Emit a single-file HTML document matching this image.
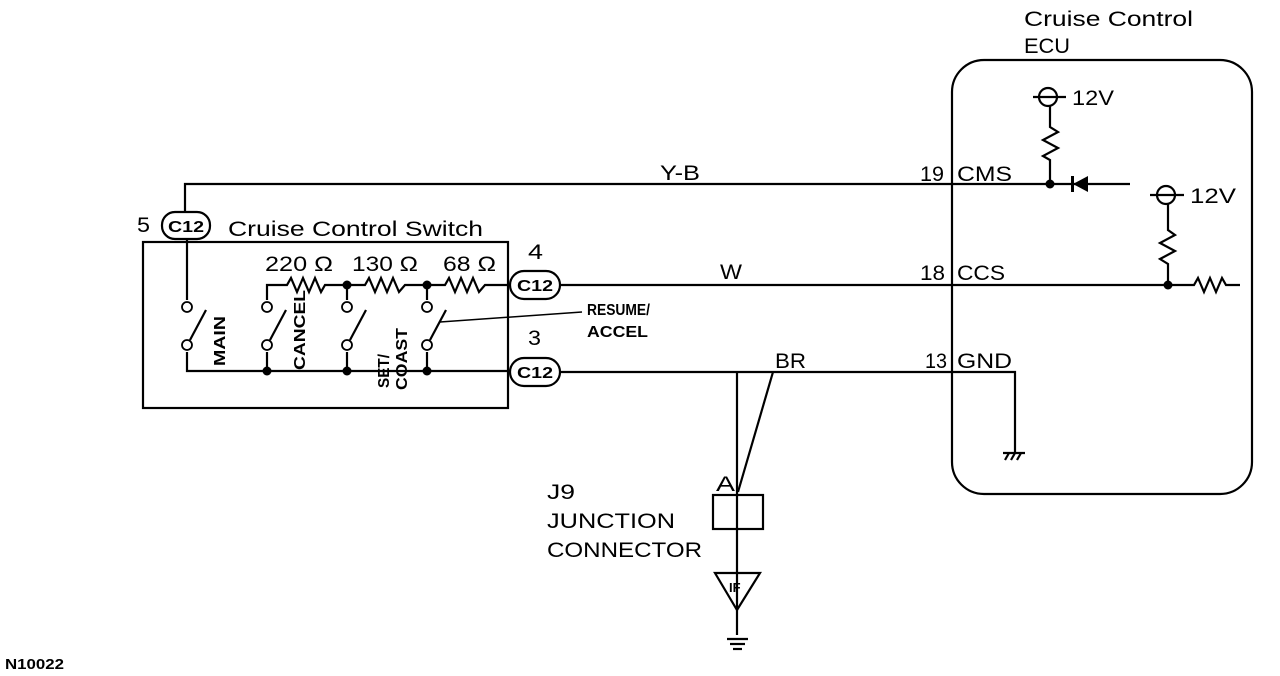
<!DOCTYPE html>
<html><head><meta charset="utf-8"><style>
html,body{margin:0;padding:0;background:#fff;}
svg{display:block;font-family:"Liberation Sans",sans-serif;}
</style></head><body>
<svg width="1280" height="676" viewBox="0 0 1280 676" xmlns="http://www.w3.org/2000/svg">
<g fill="none" stroke="#000" stroke-width="2.2">
<rect x="952" y="60" width="300" height="434" rx="32"/>
<rect x="143" y="242" width="365" height="166"/>
<polyline points="185,212 185,184 1130,184"/>
<circle cx="1048" cy="97" r="9" fill="#fff"/>
<line x1="1033" y1="97" x2="1066" y2="97"/>
<polyline points="1050,106 1050,127 1058,132 1043,140 1058,148 1043,156 1050,160 1050,184"/>
<circle cx="1166" cy="195" r="9" fill="#fff"/>
<line x1="1150" y1="195" x2="1184" y2="195"/>
<polyline points="1168,204 1168,230 1175,235 1160,243 1175,251 1160,259 1168,264 1168,285"/>
<polyline points="560,285 1188,285 1194,285 1198,278 1204,292 1210,278 1216,292 1222,278 1226,285 1240,285"/>
<polyline points="560,372 1015,372 1015,452"/>
<line x1="1003" y1="453" x2="1025" y2="453"/>
<line x1="1005" y1="460" x2="1009" y2="453"/><line x1="1011" y1="460" x2="1015" y2="453"/><line x1="1017" y1="460" x2="1021" y2="453"/>
<line x1="737" y1="372" x2="737" y2="635"/>
<line x1="773" y1="372" x2="738" y2="492"/>
<rect x="713" y="495" width="50" height="34" fill="none"/>
<polygon points="715,573 760,573 737,610"/>
<line x1="727" y1="639" x2="748" y2="639"/>
<line x1="730" y1="644" x2="745" y2="644"/>
<line x1="733" y1="649" x2="742" y2="649"/>
<polyline points="267,300 267,285 287,285 291,278 297,292 303,278 309,292 315,278 321,292 325,285 365,285 369,278 375,292 381,278 387,292 393,278 399,292 405,285 445,285 449,278 455,292 461,278 467,292 473,278 479,292 485,285 512,285"/>
<line x1="347" y1="285" x2="347" y2="300"/>
<line x1="427" y1="285" x2="427" y2="300"/>
<line x1="187" y1="238" x2="187" y2="300"/>
<polyline points="187,352 187,371 512,371"/>
<line x1="267" y1="352" x2="267" y2="371"/>
<line x1="347" y1="352" x2="347" y2="371"/>
<line x1="427" y1="352" x2="427" y2="371"/>
<g stroke-width="1.8">
<circle cx="187" cy="307" r="5" fill="#fff"/><circle cx="187" cy="345" r="5" fill="#fff"/>
<circle cx="267" cy="307" r="5" fill="#fff"/><circle cx="267" cy="345" r="5" fill="#fff"/>
<circle cx="347" cy="307" r="5" fill="#fff"/><circle cx="347" cy="345" r="5" fill="#fff"/>
<circle cx="427" cy="307" r="5" fill="#fff"/><circle cx="427" cy="345" r="5" fill="#fff"/>
</g>
<line x1="190" y1="340" x2="206" y2="310"/>
<line x1="270" y1="340" x2="286" y2="310"/>
<line x1="350" y1="340" x2="366" y2="310"/>
<line x1="430" y1="340" x2="446" y2="310"/>
<line x1="440" y1="322" x2="582" y2="312" stroke-width="1.5"/>
<rect x="162" y="212" width="48" height="27" rx="13" fill="#fff"/>
<rect x="510" y="271" width="50" height="28" rx="14" fill="#fff"/>
<rect x="510" y="358" width="50" height="28" rx="14" fill="#fff"/>
</g>
<g fill="#000">
<circle cx="1050" cy="184" r="4.5"/>
<circle cx="1168" cy="285" r="4.5"/>
<circle cx="347" cy="285" r="4.5"/><circle cx="427" cy="285" r="4.5"/>
<circle cx="267" cy="371" r="4.5"/><circle cx="347" cy="371" r="4.5"/><circle cx="427" cy="371" r="4.5"/>
<polygon points="1073,184 1088,176 1088,192"/>
<rect x="1071" y="176" width="3" height="16"/>
</g>
<g font-size="21" fill="#000">
<text x="1024" y="26" textLength="169" lengthAdjust="spacingAndGlyphs">Cruise Control</text>
<text x="1024" y="53" textLength="46" lengthAdjust="spacingAndGlyphs">ECU</text>
<text x="1072" y="105" textLength="42" lengthAdjust="spacingAndGlyphs">12V</text>
<text x="1190" y="203" textLength="46" lengthAdjust="spacingAndGlyphs">12V</text>
<text x="920" y="181" textLength="24" lengthAdjust="spacingAndGlyphs">19</text><text x="957" y="181" textLength="55" lengthAdjust="spacingAndGlyphs">CMS</text>
<text x="920" y="280" textLength="25" lengthAdjust="spacingAndGlyphs">18</text><text x="957" y="280" textLength="48" lengthAdjust="spacingAndGlyphs">CCS</text>
<text x="925" y="368" textLength="22" lengthAdjust="spacingAndGlyphs">13</text><text x="957" y="368" textLength="55" lengthAdjust="spacingAndGlyphs">GND</text>
<text x="660" y="180" textLength="40" lengthAdjust="spacingAndGlyphs">Y-B</text>
<text x="720" y="279" textLength="22" lengthAdjust="spacingAndGlyphs">W</text>
<text x="775" y="368" textLength="31" lengthAdjust="spacingAndGlyphs">BR</text>
<text x="716" y="491" textLength="19" lengthAdjust="spacingAndGlyphs">A</text>
<text x="547" y="499" textLength="28" lengthAdjust="spacingAndGlyphs">J9</text>
<text x="547" y="528" textLength="128" lengthAdjust="spacingAndGlyphs">JUNCTION</text>
<text x="547" y="557" textLength="155" lengthAdjust="spacingAndGlyphs">CONNECTOR</text>
<text x="137" y="232" textLength="13" lengthAdjust="spacingAndGlyphs">5</text>
<text x="228" y="236" textLength="255" lengthAdjust="spacingAndGlyphs">Cruise Control Switch</text>
<text x="528" y="259" textLength="15" lengthAdjust="spacingAndGlyphs">4</text>
<text x="528" y="345" textLength="13" lengthAdjust="spacingAndGlyphs">3</text>
<text x="265" y="271" textLength="68" lengthAdjust="spacingAndGlyphs">220 Ω</text>
<text x="352" y="271" textLength="66" lengthAdjust="spacingAndGlyphs">130 Ω</text>
<text x="443" y="271" textLength="53" lengthAdjust="spacingAndGlyphs">68 Ω</text>
</g>
<g font-size="16" fill="#000" font-weight="bold">
<text x="168" y="232" textLength="36" lengthAdjust="spacingAndGlyphs">C12</text>
<text x="517" y="291" textLength="36" lengthAdjust="spacingAndGlyphs">C12</text>
<text x="517" y="378" textLength="36" lengthAdjust="spacingAndGlyphs">C12</text>
<text x="587" y="315" textLength="63" lengthAdjust="spacingAndGlyphs">RESUME/</text>
<text x="587" y="337" textLength="61" lengthAdjust="spacingAndGlyphs">ACCEL</text>
<text x="729" y="592" font-size="13">IF</text>
<text x="5" y="669" font-size="15" textLength="59" lengthAdjust="spacingAndGlyphs">N10022</text>
<text transform="translate(225,366) rotate(-90)" textLength="50" lengthAdjust="spacingAndGlyphs">MAIN</text>
<text transform="translate(305,370) rotate(-90)" textLength="80" lengthAdjust="spacingAndGlyphs">CANCEL</text>
<text transform="translate(389,388) rotate(-90)" textLength="34" lengthAdjust="spacingAndGlyphs">SET/</text>
<text transform="translate(407,390) rotate(-90)" textLength="62" lengthAdjust="spacingAndGlyphs">COAST</text>
</g>
</svg>
</body></html>
